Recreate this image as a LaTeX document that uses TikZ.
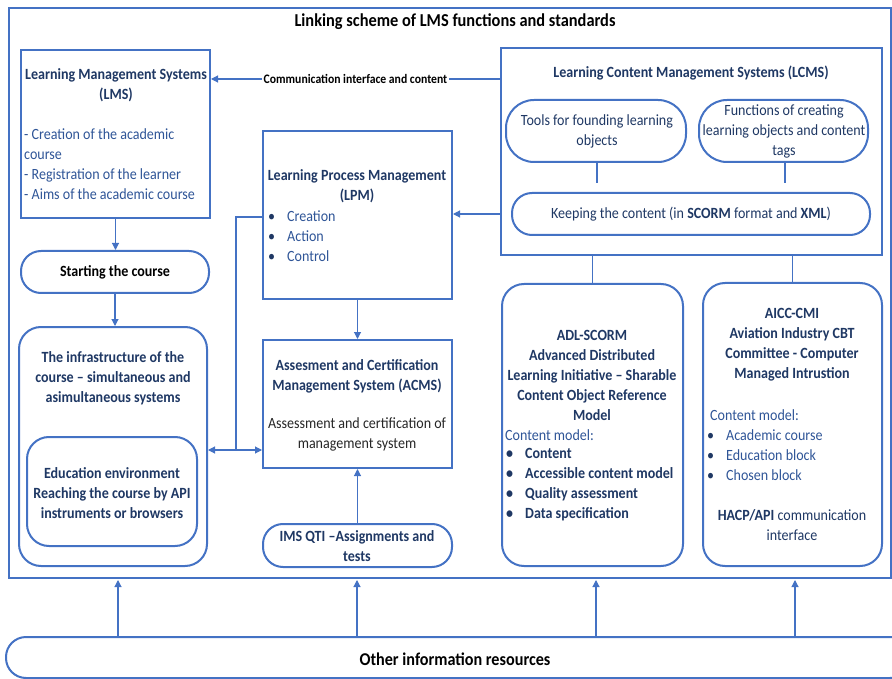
\documentclass[tikz,border=0pt]{standalone}
\usepackage{fontspec}
\setmainfont{Carlito}[FakeStretch=0.9]
\usetikzlibrary{arrows.meta}
\definecolor{edge}{HTML}{4472C4}
\definecolor{navy}{HTML}{1F3864}
\definecolor{ink}{HTML}{2F5597}
\definecolor{dark}{HTML}{262626}
\newcommand\bodyfs{\fontsize{15.6}{20}\selectfont}
\newcommand\headfs{\fontsize{18.2}{22}\selectfont}
\newcommand\labelfs{\fontsize{13}{15}\selectfont}
\newcommand\bitem[1]{\makebox[19pt][l]{\textcolor{navy}{\textbullet}}#1}
\begin{document}
\begin{tikzpicture}[x=1pt,y=-1pt,
  box/.style={draw=edge, line width=2pt, inner sep=0pt},
  pill/.style={box, rounded corners=20pt},
  soft/.style={box, rounded corners=22pt},
  conn/.style={draw=edge, line width=1.1pt},
  arr/.style={conn, -{Triangle[length=7pt,width=7pt]}},
  twoarr/.style={conn, {Triangle[length=7pt,width=7pt]}-{Triangle[length=7pt,width=7pt]}},
  txt/.style={inner sep=0pt, align=center, font=\bodyfs},
  head/.style={txt, text=navy, font=\bodyfs\bfseries},
  lst/.style={inner sep=0pt, align=left, anchor=west, font=\bodyfs}]
\useasboundingbox (0,0) rectangle (892,679);

% outer frame and heading
\node[box, minimum width=882pt, minimum height=570pt] (frame) at (450,293) {};
\node[txt, font=\headfs\bfseries, text=black] (title) at (455,22) {Linking scheme of LMS functions and standards};

% left column
\node[box, minimum width=189pt, minimum height=168pt] (lms) at (115.5,134) {};
\node[head] (lmsT) at (116,85) {Learning Management Systems\\(LMS)};
\node[lst, text=ink] (lmsL) at (24,164.5) {- Creation of the academic\\course\\- Registration of the learner\\- Aims of the academic course};

\node[pill, minimum width=188pt, minimum height=42pt] (start) at (115,272) {};
\node[txt, font=\bodyfs\bfseries, text=black] (startT) at (115,272) {Starting the course};

\node[soft, minimum width=188pt, minimum height=239pt] (infra) at (113,446.5) {};
\node[head] (infraT) at (113,378) {The infrastructure of the\\course -- simultaneous and\\asimultaneous systems};
\node[soft, minimum width=170pt, minimum height=109pt] (edu) at (112,491.5) {};
\node[head] (eduT) at (112,493) {Education environment\\Reaching the course by API\\instruments or browsers};

% middle column
\node[box, minimum width=189pt, minimum height=168pt] (lpm) at (357.5,215) {};
\node[head] (lpmT) at (357,186) {Learning Process Management\\(LPM)};
\node[lst, text=ink] (lpmL) at (268,236) {\bitem{Creation}\\\bitem{Action}\\\bitem{Control}};

\node[box, minimum width=189pt, minimum height=128pt] (acms) at (357.5,404) {};
\node[head] (acmsT) at (357,376) {Assesment and Certification\\Management System (ACMS)};
\node[txt, text=dark] (acmsB) at (357,434) {Assessment and certification of\\management system};

\node[pill, minimum width=189pt, minimum height=43pt] (ims) at (357.5,545.5) {};
\node[head] (imsT) at (357,546) {IMS QTI --Assignments and\\tests};

% content management block
\node[box, minimum width=381pt, minimum height=207pt] (lcms) at (691.5,151.5) {};
\node[head] (lcmsT) at (691,73) {Learning Content Management Systems (LCMS)};
\node[soft, rounded corners=28pt, minimum width=180pt, minimum height=62pt] (tools) at (596,131) {};
\node[txt, text=navy] (toolsT) at (597,131.5) {Tools for founding learning\\objects};
\node[soft, rounded corners=28pt, minimum width=169pt, minimum height=62pt] (func) at (783.5,131) {};
\node[txt, text=navy] (funcT) at (784,131.5) {Functions of creating\\learning objects and content\\tags};
\node[pill, minimum width=358pt, minimum height=42pt] (keep) at (691,214) {};
\node[txt, text=navy] (keepT) at (691,214) {Keeping the content (in \textbf{SCORM} format and \textbf{XML})};

% standards
\node[soft, minimum width=181pt, minimum height=282pt] (adl) at (592.5,425) {};
\node[head] (adlT) at (592,375) {ADL-SCORM\\Advanced Distributed\\Learning Initiative -- Sharable\\Content Object Reference\\Model};
\node[lst, text=ink] (adlC) at (505,435) {Content model:};
\node[lst, text=navy, font=\bodyfs\bfseries] (adlL) at (506,485) {\bitem{Content}\\\bitem{Accessible content model}\\\bitem{Quality assessment}\\\bitem{Data specification}};

\node[soft, minimum width=179pt, minimum height=283pt] (aicc) at (792.5,424.5) {};
\node[head] (aiccT) at (792,345) {AICC-CMI\\Aviation Industry CBT\\Committee - Computer\\Managed Intrustion};
\node[lst, text=ink] (aiccC) at (710,415) {Content model:};
\node[lst, text=ink] (aiccL) at (707,455) {\bitem{Academic course}\\\bitem{Education block}\\\bitem{Chosen block}};
\node[txt, text=navy] (aiccH) at (792,525) {\textbf{HACP/API} communication\\interface};

% external resources
\node[soft, rounded corners=20pt, minimum width=904pt, minimum height=41pt] (other) at (458,657.5) {};
\node[txt, font=\fontsize{18}{22}\selectfont\bfseries, text=black] (otherT) at (455,659) {Other information resources};

% connectors
\draw[arr] (lcms.west |- 0,79) -- node[fill=white, inner sep=1.5pt, font=\labelfs\bfseries, text=black] (comm) {Communication interface and content} (lms.east |- 0,79);
\draw[arr] (lcms.west |- keep) -- (lpm.east |- keep);
\draw[conn] (tools.south -| 597,0) -- ++(0,20);
\draw[conn] (func.south -| 785,0) -- ++(0,20);
\draw[conn] (lcms.south -| adl) -- (adl.north);
\draw[conn] (lcms.south -| aicc) -- (aicc.north);
\draw[arr] (lms.south) -- (start.north -| lms.south);
\draw[arr] (start.south) -- (infra.north -| start.south);
\draw[arr] (lpm.south) -- (acms.north);
\draw[arr] (ims.north) -- (acms.south);
\coordinate (spine) at (236,450);
\draw[conn] ([yshift=-2pt]lpm.west) -| (spine);
\draw[twoarr] (infra.east |- spine) -- (acms.west |- spine);
\foreach \x [count=\i] in {118,357,596,795}{
  \coordinate (up\i) at (\x,580);
  \draw[arr] (other.north -| up\i) -- (up\i);
}
\end{tikzpicture}
\end{document}
